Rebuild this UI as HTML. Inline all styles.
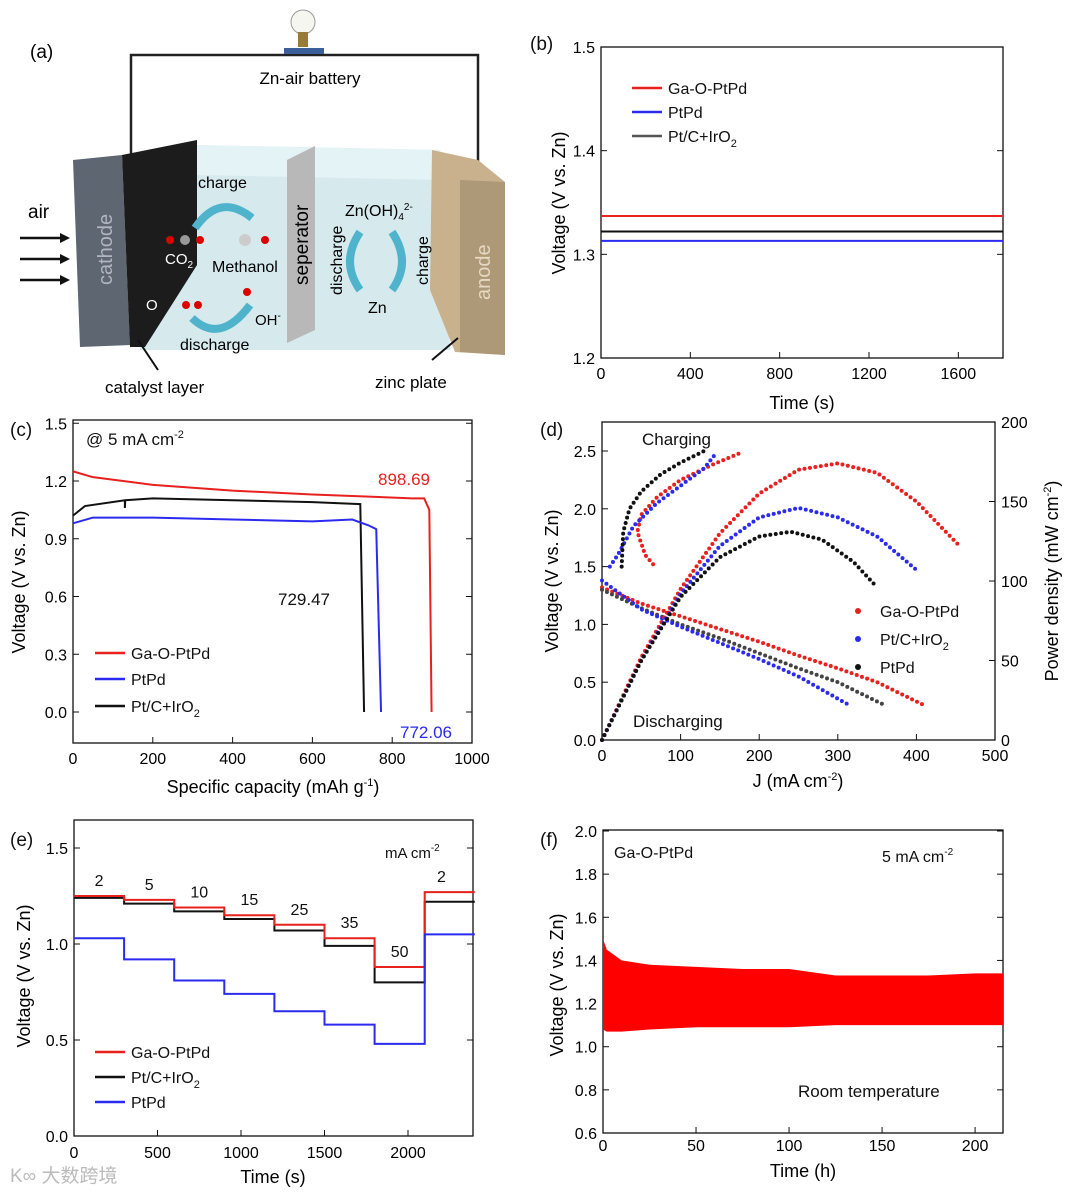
<!DOCTYPE html>
<html><head><meta charset="utf-8"><style>
html,body{margin:0;padding:0;background:#fff}
svg{display:block;font-family:"Liberation Sans",Arial,sans-serif}
</style></head><body>
<svg id="fig" width="1080" height="1194" viewBox="0 0 1080 1194" xmlns="http://www.w3.org/2000/svg">
<g id="schem">
 <text x="30" y="58" font-size="19">(a)</text>
 <polyline points="131,158 131,55 478,55 478,165" fill="none" stroke="#222" stroke-width="2.5"/>
 <rect x="284" y="48" width="40" height="6" fill="#3a5f9a"/>
 <circle cx="303" cy="22" r="12" fill="#f6f6f0" stroke="#999"/>
 <rect x="298" y="32" width="10" height="15" fill="#9a7a3a"/>
 <text x="310" y="84" font-size="17" text-anchor="middle">Zn-air battery</text>
 <polygon points="197,145 440,150 450,350 140,350 140,170" fill="#d6eaee"/>
 <polygon points="197,145 440,150 445,180 197,175" fill="#e4f3f6"/>
 <polygon points="73,160 122,155 130,345 80,347" fill="#5e6672"/>
 <polygon points="122,155 197,140 197,265 145,347 130,347" fill="#1c1c1c"/>
 <polygon points="287,160 315,146 315,330 287,343" fill="#b8b8b8"/>
 <polygon points="432,150 478,160 505,182 505,355 455,352 430,290" fill="#c8b18c"/>
 <polygon points="460,180 505,182 505,355 460,352" fill="#ad9878"/>
 <text transform="translate(112,285) rotate(-90)" font-size="20" fill="#b0b6c0">cathode</text>
 <text transform="translate(490,300) rotate(-90)" font-size="20" fill="#e6d9c0">anode</text>
 <text transform="translate(308,285) rotate(-90)" font-size="19">seperator</text>
 <text x="28" y="218" font-size="19">air</text>
 <g stroke="#111" stroke-width="2.5">
  <line x1="20" y1="238" x2="62" y2="238"/><line x1="20" y1="259" x2="62" y2="259"/><line x1="20" y1="280" x2="62" y2="280"/></g>
 <g fill="#111"><polygon points="70,238 60,233 60,243"/><polygon points="70,259 60,254 60,264"/><polygon points="70,280 60,275 60,285"/></g>
 <text x="198" y="188" font-size="16">charge</text>
 <path d="M195,228 Q220,192 252,218" fill="none" stroke="#4fb3cc" stroke-width="8"/>
 <circle cx="170" cy="240" r="4" fill="#d00"/><circle cx="185" cy="240" r="5" fill="#999"/><circle cx="200" cy="240" r="4" fill="#d00"/>
 <text x="165" y="264" font-size="15" fill="#fff">CO<tspan font-size="10" dy="4">2</tspan></text>
 <circle cx="245" cy="240" r="6" fill="#ccc"/><circle cx="265" cy="240" r="4" fill="#d00"/>
 <text x="212" y="272" font-size="16">Methanol</text>
 <text x="146" y="310" font-size="15" fill="#fff">O</text>
 <circle cx="186" cy="305" r="4" fill="#d00"/><circle cx="198" cy="305" r="4" fill="#d00"/><circle cx="247" cy="292" r="4" fill="#d00"/>
 <path d="M192,318 Q220,345 250,305" fill="none" stroke="#4fb3cc" stroke-width="8"/>
 <text x="255" y="325" font-size="15">OH<tspan font-size="10" dy="-6">-</tspan></text>
 <text x="180" y="350" font-size="16">discharge</text>
 <text x="345" y="216" font-size="16">Zn(OH)<tspan font-size="10" dy="4">4</tspan><tspan font-size="10" dy="-10">2-</tspan></text>
 <text transform="translate(342,295) rotate(-90)" font-size="16">discharge</text>
 <text transform="translate(428,285) rotate(-90)" font-size="16">charge</text>
 <path d="M360,232 Q340,262 360,290" fill="none" stroke="#4fb3cc" stroke-width="8"/>
 <path d="M392,232 Q412,262 392,290" fill="none" stroke="#4fb3cc" stroke-width="8"/>
 <text x="368" y="313" font-size="16">Zn</text>
 <line x1="138" y1="340" x2="158" y2="370" stroke="#111" stroke-width="2"/>
 <line x1="458" y1="338" x2="432" y2="360" stroke="#111" stroke-width="2"/>
 <text x="105" y="393" font-size="17">catalyst layer</text>
 <text x="375" y="388" font-size="17">zinc plate</text>
</g>
</svg>
<script>
// ---- data (b)
const bTime=[0,1800];
const bGa=[1.337,1.337], bPt=[1.313,1.313], bPtC=[1.322,1.322];
const bXTicks=[0,400,800,1200,1600], bYTicks=[1.2,1.3,1.4,1.5];
// ---- data (c)
const cGaCap=[0,50,200,400,600,850,880,893,898.69], cGaV=[1.25,1.22,1.18,1.15,1.13,1.11,1.11,1.05,0];
const cPtCCap=[0,30,130,130,131,200,400,600,720,729.47], cPtCV=[1.02,1.07,1.10,1.06,1.10,1.11,1.10,1.09,1.08,0];
const cPtCap=[0,50,200,400,600,700,740,760,772.06], cPtV=[0.98,1.01,1.01,1.0,0.99,1.0,0.97,0.95,0];
const cXTicks=[0,200,400,600,800,1000], cYTicks=[0,0.3,0.6,0.9,1.2,1.5];
// ---- data (d)
const dGaJ=[0,50,100,150,200,250,300,350,410], dGaV=[1.32,1.18,1.07,0.96,0.85,0.73,0.62,0.50,0.30];
const dPtCJ=[0,50,100,150,200,250,315], dPtCV=[1.38,1.13,0.98,0.84,0.70,0.55,0.30];
const dPtJ=[0,50,100,150,200,250,300,360], dPtV=[1.30,1.14,1.00,0.88,0.75,0.62,0.50,0.30];
const dGaPJ=[0,50,100,150,200,250,300,350,400,455], dGaP=[0,52,95,130,155,170,174,168,150,122];
const dPtCPJ=[0,50,100,150,200,250,300,350,400], dPtCP=[0,50,92,122,140,146,140,128,107];
const dPtPJ=[0,50,100,150,200,240,280,320,350], dPtP=[0,50,90,115,128,131,126,112,96];
const dGaCJ=[65,55,45,50,70,100,140,175], dGaCV=[1.52,1.6,1.8,1.95,2.1,2.25,2.38,2.48];
const dPtCCJ=[10,20,40,70,100,130,145], dPtCCV=[1.5,1.6,1.85,2.05,2.2,2.35,2.48];
const dPtCCJb=[25,27,35,50,75,100,130], dPtCCVb=[1.5,1.8,2.0,2.15,2.3,2.4,2.5];
const dXTicks=[0,100,200,300,400,500], dYTicks=[0,0.5,1.0,1.5,2.0,2.5], dPTicks=[0,50,100,150,200];
// ---- data (e)
const eSegStart=[0,300,600,900,1200,1500,1800,2100], eSegEnd=2400;
const eGa=[1.25,1.23,1.19,1.15,1.10,1.03,0.88,1.27];
const ePtC=[1.24,1.21,1.17,1.13,1.07,0.99,0.80,1.22];
const ePt=[1.03,0.92,0.81,0.74,0.65,0.58,0.48,1.05];
const eRates=["2","5","10","15","25","35","50","2"];
const eXTicks=[0,500,1000,1500,2000], eYTicks=[0,0.5,1.0,1.5];
// ---- data (f)
const fT=[0,2,10,25,50,75,100,125,150,175,200,215];
const fUp=[1.50,1.45,1.40,1.38,1.37,1.36,1.36,1.33,1.33,1.33,1.34,1.34];
const fLo=[1.08,1.07,1.07,1.08,1.09,1.09,1.09,1.10,1.10,1.10,1.10,1.10];
const fXTicks=[0,50,100,150,200], fYTicks=[0.6,0.8,1.0,1.2,1.4,1.6,1.8,2.0];

const NS="http://www.w3.org/2000/svg", svg=document.getElementById('fig');
function mk(tag,attrs,parent,txt){const e=document.createElementNS(NS,tag);for(const k in attrs)e.setAttribute(k,attrs[k]);if(txt!=null)e.innerHTML=txt;(parent||svg).appendChild(e);return e;}
function lin(d0,d1,r0,r1){return v=>r0+(v-d0)/(d1-d0)*(r1-r0);}
function axes(g,L,T,R,B,sx,sy,xt,yt,fmtX,fmtY,right,xoff){
  const box=mk('rect',{x:L,y:T,width:R-L,height:B-T,fill:'none',stroke:'#111','stroke-width':1.3},g);
  
  xt.forEach(v=>{const x=sx(v);mk('line',{x1:x,x2:x,y1:B,y2:B-6,stroke:'#111'},g);
    const t=mk('text',{x:x,y:B+(xoff||21),'font-size':16,'text-anchor':'middle'},g,fmtX(v));
    });
  yt.forEach(v=>{const y=sy(v);mk('line',{x1:L,x2:L+6,y1:y,y2:y,stroke:'#111'},g);
    if(!right)mk('line',{x1:R,x2:R-6,y1:y,y2:y,stroke:'#111'},g);
    const t=mk('text',{x:L-6,y:y+6,'font-size':16,'text-anchor':'end'},g,fmtY(v));
    });
}
function poly(g,xs,ys,sx,sy,attrs,name){const p=mk('polyline',Object.assign({points:xs.map((x,i)=>sx(x)+','+sy(ys[i])).join(' '),fill:'none'},attrs),g);
  return p;}
function ylabel(g,x,y,txt){const t=mk('text',{transform:`translate(${x},${y}) rotate(-90)`,'font-size':18,'text-anchor':'middle'},g,txt);
  }
function xlabel(g,x,y,txt){const t=mk('text',{x:x,y:y,'font-size':18,'text-anchor':'middle'},g,txt);
  }
function txt(g,x,y,s,size,fill,name,anchor){const t=mk('text',{x:x,y:y,'font-size':size,fill:fill||'#111','text-anchor':anchor||'start'},g,s);
  }
function legLine(g,x,y,c,label,name){const l=mk('line',{x1:x,x2:x+30,y1:y,y2:y,stroke:c,'stroke-width':2.5},g);
  
  txt(g,x+36,y+6,label,16,'#111',name);}
const f1=v=>v.toFixed(1), f0=v=>String(v);
const RED='#e8201e',BLUE='#2b2bf0',BLK='#111';

// (b)
{const g=mk('g',{});
const L=601,R=1003,T=47,B=358,sx=lin(0,1800,L,R),sy=lin(1.2,1.5,B,T);
axes(g,L,T,R,B,sx,sy,bXTicks,bYTicks,f0,f1);
poly(g,bTime,bGa,sx,sy,{stroke:RED,'stroke-width':2},'line-ga-o-ptpd');
poly(g,bTime,bPtC,sx,sy,{stroke:BLK,'stroke-width':2},'line-pt-c-iro2');
poly(g,bTime,bPt,sx,sy,{stroke:BLUE,'stroke-width':2},'line-ptpd');
txt(g,530,50,'(b)',19,'#111','panel-b-label');
ylabel(g,565,203,'Voltage (V vs. Zn)');xlabel(g,802,409,'Time (s)');
legLine(g,632,88,RED,'Ga-O-PtPd','legend-ga-o-ptpd');legLine(g,632,112,BLUE,'PtPd','legend-ptpd');
legLine(g,632,136,'#555','Pt/C+IrO<tspan font-size="11" dy="5">2</tspan>','legend-pt-c-iro2');}

// (c)
{const g=mk('g',{});
const L=73,R=472,T=420,B=743,sx=lin(0,1000,L,R),sy=lin(0,1.2,712,481);
axes(g,L,T,R,B,sx,sy,cXTicks,cYTicks,f0,f1);
poly(g,cGaCap,cGaV,sx,sy,{stroke:RED,'stroke-width':2},'line-ga-o-ptpd');
poly(g,cPtCCap,cPtCV,sx,sy,{stroke:BLK,'stroke-width':2},'line-pt-c-iro2');
poly(g,cPtCap,cPtV,sx,sy,{stroke:BLUE,'stroke-width':2},'line-ptpd');
txt(g,10,436,'(c)',19,'#111','panel-c-label');txt(g,86,445,'@ 5 mA cm<tspan font-size="11" dy="-7">-2</tspan>',17,'#111','condition-label');
txt(g,378,485,'898.69',17,RED,'ga-capacity-label');txt(g,278,605,'729.47',17,'#111','ptc-capacity-label');
txt(g,400,738,'772.06',17,BLUE,'ptpd-capacity-label');
ylabel(g,25,582,'Voltage (V vs. Zn)');xlabel(g,273,793,'Specific capacity (mAh g<tspan font-size="11" dy="-7">-1</tspan><tspan dy="7">)</tspan>');
legLine(g,95,653,RED,'Ga-O-PtPd','legend-ga-o-ptpd');legLine(g,95,679,BLUE,'PtPd','legend-ptpd');
legLine(g,95,706,BLK,'Pt/C+IrO<tspan font-size="11" dy="5">2</tspan>','legend-pt-c-iro2');}

// (d)
{const g=mk('g',{});
const L=602,R=995,T=422,B=740,sx=lin(0,500,L,R),sy=lin(0,2.5,B,451),sp=lin(0,200,B,T);
axes(g,L,T,R,B,sx,sy,dXTicks,dYTicks,f0,f1,true);
dPTicks.forEach(v=>{const y=sp(v);mk('line',{x1:R,x2:R-6,y1:y,y2:y,stroke:'#111'},g);
 const t=mk('text',{x:R+6,y:y+6,'font-size':16},g,v);});
const dot={'stroke-width':4,'stroke-linecap':'round','stroke-dasharray':'0 5.5'};
poly(g,dGaJ,dGaV,sx,sy,Object.assign({stroke:RED},dot),'discharge-ga-o-ptpd');
poly(g,dPtJ,dPtV,sx,sy,Object.assign({stroke:'#444'},dot),'discharge-ptpd');
poly(g,dPtCJ,dPtCV,sx,sy,Object.assign({stroke:BLUE},dot),'discharge-pt-c-iro2');
poly(g,dGaPJ,dGaP,sx,sp,Object.assign({stroke:RED},dot),'power-ga-o-ptpd');
poly(g,dPtCPJ,dPtCP,sx,sp,Object.assign({stroke:BLUE},dot),'power-pt-c-iro2');
poly(g,dPtPJ,dPtP,sx,sp,Object.assign({stroke:BLK},dot),'power-ptpd');
poly(g,dGaCJ,dGaCV,sx,sy,Object.assign({stroke:RED},dot),'charge-ga-o-ptpd');
poly(g,dPtCCJ,dPtCCV,sx,sy,Object.assign({stroke:BLUE},dot),'charge-pt-c-iro2');
poly(g,dPtCCJb,dPtCCVb,sx,sy,Object.assign({stroke:BLK},dot),'charge-ptpd');
txt(g,540,436,'(d)',19,'#111','panel-d-label');txt(g,642,445,'Charging',17,'#111','charging-label');
txt(g,633,727,'Discharging',17,'#111','discharging-label');
ylabel(g,558,581,'Voltage (V vs. Zn)');ylabel(g,1058,581,'Power density (mW cm<tspan font-size="11" dy="-7">-2</tspan><tspan dy="7">)</tspan>');
xlabel(g,798,787,'J (mA cm<tspan font-size="11" dy="-7">-2</tspan><tspan dy="7">)</tspan>');
[[RED,'Ga-O-PtPd',611],[BLUE,'Pt/C+IrO<tspan font-size="11" dy="5">2</tspan>',639],[BLK,'PtPd',667]].forEach(([c,l,y])=>{
 const d=mk('circle',{cx:858,cy:y,r:3,fill:c},g);
 txt(g,880,y+6,l,16,'#111','legend-entry');});}

// (e)
{const g=mk('g',{});
const L=74,R=473,T=820,B=1136,sx=lin(0,2000,L,408),sy=lin(0,0.5,B,1040);
axes(g,L,T,R,B,sx,sy,eXTicks,eYTicks,f0,f1,false,22);
function steps(v){const xs=[],ys=[];eSegStart.forEach((s,i)=>{const e=i<eSegStart.length-1?eSegStart[i+1]:eSegEnd;xs.push(s,e);ys.push(v[i],v[i]);});return [xs,ys];}
let s=steps(ePtC);poly(g,s[0],s[1],sx,sy,{stroke:BLK,'stroke-width':2},'line-pt-c-iro2');
s=steps(eGa);poly(g,s[0],s[1],sx,sy,{stroke:RED,'stroke-width':2},'line-ga-o-ptpd');
s=steps(ePt);poly(g,s[0],s[1],sx,sy,{stroke:BLUE,'stroke-width':2},'line-ptpd');
eRates.forEach((r,i)=>{const e=i<eSegStart.length-1?eSegStart[i+1]:eSegEnd;
 txt(g,sx((eSegStart[i]+Math.min(e,2300))/2),sy(eGa[i])-10,r,16,'#111','rate-label','middle');});
txt(g,10,846,'(e)',19,'#111','panel-e-label');txt(g,385,858,'mA cm<tspan font-size="10" dy="-7">-2</tspan>',15,'#111','unit-label');
ylabel(g,30,976,'Voltage (V vs. Zn)');xlabel(g,273,1183,'Time (s)');
legLine(g,95,1052,RED,'Ga-O-PtPd','legend-ga-o-ptpd');legLine(g,95,1077,BLK,'Pt/C+IrO<tspan font-size="11" dy="5">2</tspan>','legend-pt-c-iro2');
legLine(g,95,1102,BLUE,'PtPd','legend-ptpd');
txt(g,10,1182,'K∞ 大数跨境',19,'#bbb','watermark');}

// (f)
{const g=mk('g',{});
const L=603,R=1003,T=830,B=1133,sx=lin(0,215,L,R),sy=lin(0.6,2.0,1133,831);
axes(g,L,T,R,B,sx,sy,fXTicks,fYTicks,f0,f1,false,18);
const pts=fT.map((t,i)=>sx(t)+','+sy(fUp[i])).concat(fT.slice().reverse().map((t,i)=>sx(t)+','+sy(fLo[fT.length-1-i])));
const band=mk('polygon',{points:pts.join(' '),fill:'#f00'},g);
txt(g,540,846,'(f)',19,'#111','panel-f-label');txt(g,614,858,'Ga-O-PtPd',16,'#111','series-label');
txt(g,882,862,'5 mA cm<tspan font-size="10" dy="-7">-2</tspan>',16,'#111','condition-label');
txt(g,798,1097,'Room temperature',17,'#111','temperature-label');
ylabel(g,563,985,'Voltage (V vs. Zn)');xlabel(g,803,1177,'Time (h)');}
</script>
</body></html>
